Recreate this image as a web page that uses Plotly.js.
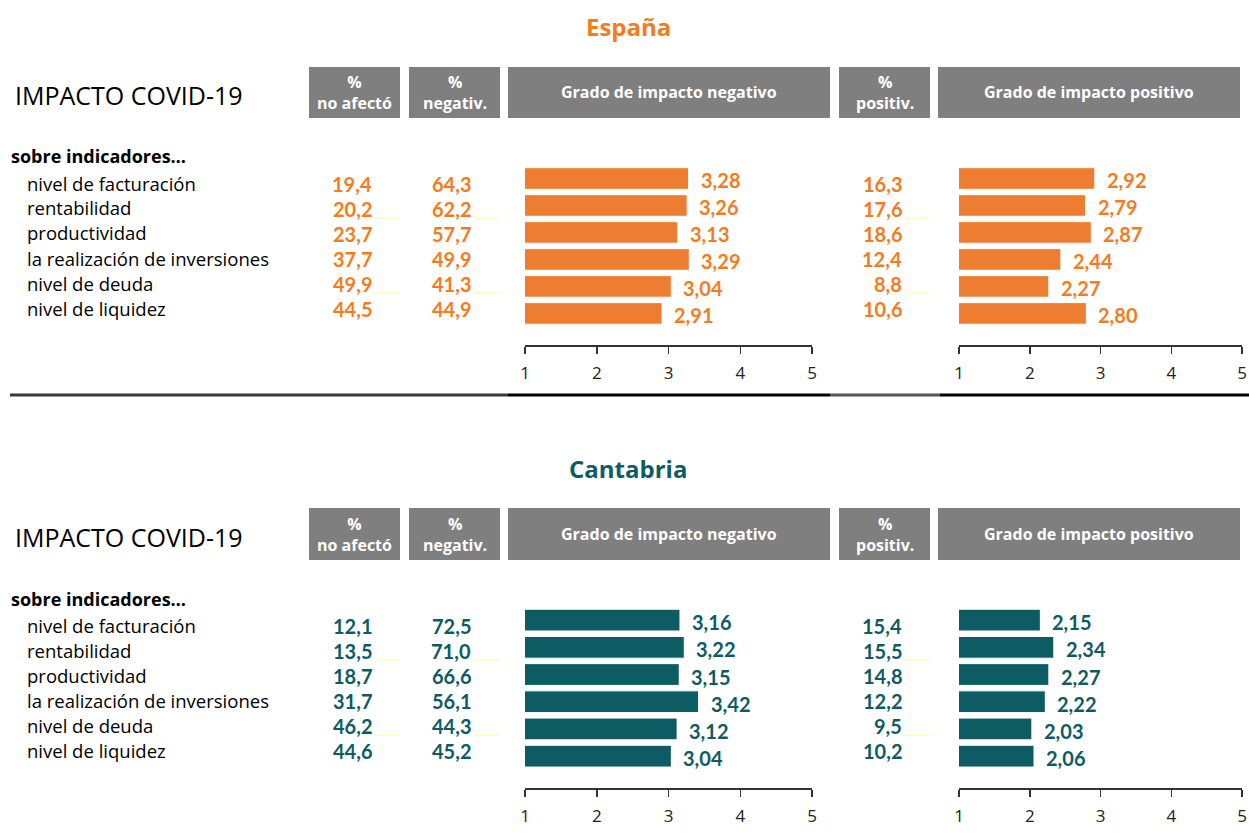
<!DOCTYPE html>
<html>
<head>
<meta charset="utf-8">
<script src="https://cdn.plot.ly/plotly-3.0.1.min.js"></script>
<style>html,body{margin:0;padding:0;background:#fff;}#chart{width:1249px;height:833px;}</style>
</head>
<body>
<div id="chart"></div>
<script>
// ---------------- DATA ----------------
const categories = ['nivel de facturación','rentabilidad','productividad','la realización de inversiones','nivel de deuda','nivel de liquidez'];
const headerLabels = ['%<br>no afectó','%<br>negativ.','Grado de impacto negativo','%<br>positiv.','Grado de impacto positivo'];
const tickVals = [1,2,3,4,5];

const espNoAfecto = [19.4,20.2,23.7,37.7,49.9,44.5];
const espNegativ  = [64.3,62.2,57.7,49.9,41.3,44.9];
const espGradoNeg = [3.28,3.26,3.13,3.29,3.04,2.91];
const espPositiv  = [16.3,17.6,18.6,12.4,8.8,10.6];
const espGradoPos = [2.92,2.79,2.87,2.44,2.27,2.80];

const canNoAfecto = [12.1,13.5,18.7,31.7,46.2,44.6];
const canNegativ  = [72.5,71.0,66.6,56.1,44.3,45.2];
const canGradoNeg = [3.16,3.22,3.15,3.42,3.12,3.04];
const canPositiv  = [15.4,15.5,14.8,12.2,9.5,10.2];
const canGradoPos = [2.15,2.34,2.27,2.22,2.03,2.06];

// ---------------- LAYOUT HELPERS ----------------
const W = 1249, H = 833;
const px = x => x / W;
const py = y => 1 - y / H;
const FONT = '"Open Sans", "Noto Sans", sans-serif';
const NUMFONT = 'Lato, "Open Sans", sans-serif';
const ORANGE = '#ED7D31', ORANGE_T = '#F47C20';
const TEAL = '#0E5C63', TEAL_T = '#0E5C63';
const GREY = '#7F7F7F';

const panels = [
  {name:'España', color:ORANGE, tcolor:ORANGE_T, titleY:27, hTop:67, hBot:118, impY:95, sobreY:157, row0:183, rowStep:25,
   dTop:165, dBot:345, noAf:espNoAfecto, neg:espNegativ, gNeg:espGradoNeg, pos:espPositiv, gPos:espGradoPos, ax:['x','y','x2','y2'], lineY:395},
  {name:'Cantabria', color:TEAL, tcolor:TEAL_T, titleY:468, hTop:508, hBot:560, impY:537, sobreY:600, row0:625, rowStep:25,
   dTop:606.5, dBot:788, noAf:canNoAfecto, neg:canNegativ, gNeg:canGradoNeg, pos:canPositiv, gPos:canGradoPos, ax:['x3','y3','x4','y4'], lineY:null}
];

const boxes = [[309,400],[409,500],[508,830],[839,930],[938,1240]];
const negDom = [525, 812];
const posDom = [959, 1242];
const fmt = (v,d) => v.toFixed(d).replace('.', ',');

const data = [];
const annotations = [];
const shapes = [];
const layout = {
  width: W, height: H, margin:{l:0,r:0,t:0,b:0}, paper_bgcolor:'#fff', plot_bgcolor:'rgba(0,0,0,0)',
  showlegend:false, separators:',.', font:{family:FONT, color:'#000'}
};

function axisName(a){ return (a[0]==='x' ? 'xaxis' : 'yaxis') + a.slice(1); }

function rowText(x, y, text, anchor, size, color, family) {
  return {xref:'paper', yref:'paper', x:px(x), y:py(y), text:text, showarrow:false, xanchor:anchor, yanchor:'middle',
    borderpad:0, font:{size:size, color:color, family:family}};
}

panels.forEach(p => {
  annotations.push({xref:'paper', yref:'paper', x:px(628), y:py(p.titleY), text:'<b>'+p.name+'</b>', showarrow:false,
    xanchor:'center', yanchor:'middle', font:{size:24, color:p.tcolor, family:FONT}});
  annotations.push({xref:'paper', yref:'paper', x:px(13), y:py(p.impY), text:'IMPACTO COVID-19', showarrow:false,
    xanchor:'left', yanchor:'middle', font:{size:25, color:'#000', family:FONT}});
  annotations.push(rowText(10, p.sobreY - 1, '<b>sobre indicadores…</b>', 'left', 18, '#000', FONT));
  boxes.forEach((b, i) => {
    shapes.push({type:'rect', xref:'paper', yref:'paper', x0:px(b[0]), x1:px(b[1]), y0:py(p.hBot), y1:py(p.hTop),
      fillcolor:GREY, line:{width:0}, layer:'below'});
    annotations.push({xref:'paper', yref:'paper', x:px((b[0]+b[1])/2), y:py((p.hTop+p.hBot)/2), text:'<b>'+headerLabels[i]+'</b>',
      showarrow:false, xanchor:'center', yanchor:'middle', font:{size:16, color:'#fff', family:FONT}});
  });
  categories.forEach((c, i) => {
    const y = p.row0 + p.rowStep * i;
    annotations.push(rowText(26, y, c, 'left', 18.5, '#000', FONT));
    annotations.push(rowText(373, y + 1, '<b>'+fmt(p.noAf[i],1)+'</b>', 'right', 20, p.tcolor, NUMFONT));
    annotations.push(rowText(472, y + 1, '<b>'+fmt(p.neg[i],1)+'</b>', 'right', 20, p.tcolor, NUMFONT));
    annotations.push(rowText(903, y + 1, '<b>'+fmt(p.pos[i],1)+'</b>', 'right', 20, p.tcolor, NUMFONT));
    if (i === 1 || i === 4) {
      [[375,400],[474,500],[904,930]].forEach(s => {
        shapes.push({type:'line', xref:'paper', yref:'paper', x0:px(s[0]), x1:px(s[1]), y0:py(y+10), y1:py(y+10),
          line:{color:'#FFFFC8', width:2}});
      });
    }
  });
  const specs = [[p.ax[0], p.ax[1], p.gNeg, negDom], [p.ax[2], p.ax[3], p.gPos, posDom]];
  specs.forEach(([xa, ya, vals, dom]) => {
    data.push({type:'bar', orientation:'h', x:vals, y:categories, xaxis:xa, yaxis:ya,
      marker:{color:p.color, line:{color:'#ffffff', width:1}}, hoverinfo:'skip'});
    layout[axisName(xa)] = {domain:[px(dom[0]), px(dom[1])], range:[1,5], anchor:ya, tickvals:tickVals,
      showgrid:false, zeroline:false, showline:true, linecolor:'#333', linewidth:1.5, ticks:'outside', ticklen:7,
      tickwidth:1.5, tickcolor:'#333', ticklabelstandoff:5, tickfont:{size:17, color:'#222', family:FONT}, fixedrange:true};
    layout[axisName(ya)] = {domain:[py(p.dBot), py(p.dTop)], type:'category', categoryarray:categories, anchor:xa,
      range:[6.17,-0.5], showticklabels:false, showgrid:false, zeroline:false, showline:false, ticks:'', fixedrange:true};
    vals.forEach((v, i) => {
      annotations.push({xref:xa, yref:ya, x:v, y:categories[i], text:'<b>'+fmt(v,2)+'</b>', showarrow:false,
        xanchor:'left', yanchor:'middle', xshift:11, yshift:-2, borderpad:0,
        font:{size:20, color:p.tcolor, family:NUMFONT}});
    });
  });
  if (p.lineY) {
    [[10,508,'#3a3a3a'],[508,830,'#000'],[830,940,'#555'],[940,1249,'#000']].forEach(s => {
      shapes.push({type:'line', xref:'paper', yref:'paper', x0:px(s[0]), x1:px(s[1]), y0:py(p.lineY), y1:py(p.lineY),
        line:{color:s[2], width:3}});
    });
  }
});

layout.annotations = annotations;
layout.shapes = shapes;
Plotly.newPlot('chart', data, layout, {displayModeBar:false, staticPlot:true});
</script>
</body>
</html>
